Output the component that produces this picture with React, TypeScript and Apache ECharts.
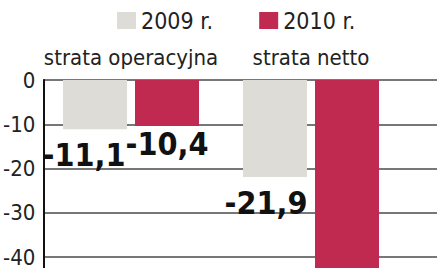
import React, { useEffect, useRef } from "react";
import * as echarts from "echarts";

const categories = ["strata operacyjna", "strata netto"];
const seriesNames = ["2009 r.", "2010 r."];
const values2009 = [-11.1, -21.9];
const values2010 = [-10.4, -50];
const yTicks = [0, -10, -20, -30, -40, -50];

const FONT = "DejaVu Sans Condensed";

export default function App() {
  const ref = useRef<HTMLDivElement>(null);
  useEffect(() => {
    document.body.style.margin = "0";
    const chart = echarts.init(ref.current!, null, { renderer: "svg" });
    const yMin = yTicks[yTicks.length - 1];
    const labelStyle = {
      show: true,
      position: "bottom" as const,
      fontFamily: FONT,
      fontWeight: "bold" as const,
      fontSize: 32,
      color: "#111",
      formatter: (p: any) => String(p.value).replace(".", ","),
    };
    chart.setOption({
      animation: false,
      backgroundColor: "#ffffff",
      legend: {
        left: 112,
        top: 4,
        itemWidth: 19,
        itemHeight: 17,
        itemGap: 46,
        icon: "rect",
        textStyle: { fontFamily: FONT, fontSize: 23, color: "#222" },
        data: seriesNames,
      },
      grid: [
        { left: 41, right: 2, top: 80, bottom: 8.5 },
        { left: 41, width: 360, top: 80, bottom: 8.5 },
      ],
      xAxis: [
        { type: "category", gridIndex: 0, data: categories, show: false },
        {
          type: "category",
          gridIndex: 1,
          data: categories,
          position: "top",
          axisLine: { show: false },
          axisTick: { show: false },
          axisLabel: { interval: 0, fontFamily: FONT, fontSize: 22, color: "#222", margin: 12 },
        },
      ],
      yAxis: [
        {
          type: "value",
          gridIndex: 0,
          min: yMin,
          max: 0,
          interval: 10,
          axisLine: { show: true, lineStyle: { color: "#111", width: 2 } },
          axisTick: { show: false },
          splitLine: { show: true, lineStyle: { color: "#4a4a4a", width: 1.5 } },
          axisLabel: {
            fontFamily: FONT,
            fontSize: 22,
            lineHeight: 18,
            color: "#222",
            margin: 8,
            showMinLabel: false,
          },
        },
        { type: "value", gridIndex: 1, min: yMin, max: 0, interval: 10, show: false },
      ],
      series: [
        {
          name: seriesNames[0],
          type: "bar",
          xAxisIndex: 1,
          yAxisIndex: 1,
          barWidth: 64,
          barGap: "12.5%",
          itemStyle: { color: "#dddcd6" },
          label: labelStyle,
          data: [
            { value: values2009[0], label: { offset: [-11, 5] } },
            { value: values2009[1], label: { offset: [-9, 5] } },
          ],
        },
        {
          name: seriesNames[1],
          type: "bar",
          xAxisIndex: 1,
          yAxisIndex: 1,
          barWidth: 64,
          barGap: "12.5%",
          itemStyle: { color: "#c02a50" },
          label: labelStyle,
          data: [
            { value: values2010[0], label: { offset: [0, -3] } },
            { value: values2010[1], label: { show: false } },
          ],
        },
      ],
    });
    return () => chart.dispose();
  }, []);
  return (
    <div style={{ width: 439, height: 268, overflow: "hidden" }}>
      <div ref={ref} style={{ width: 439, height: 310 }} />
    </div>
  );
}
